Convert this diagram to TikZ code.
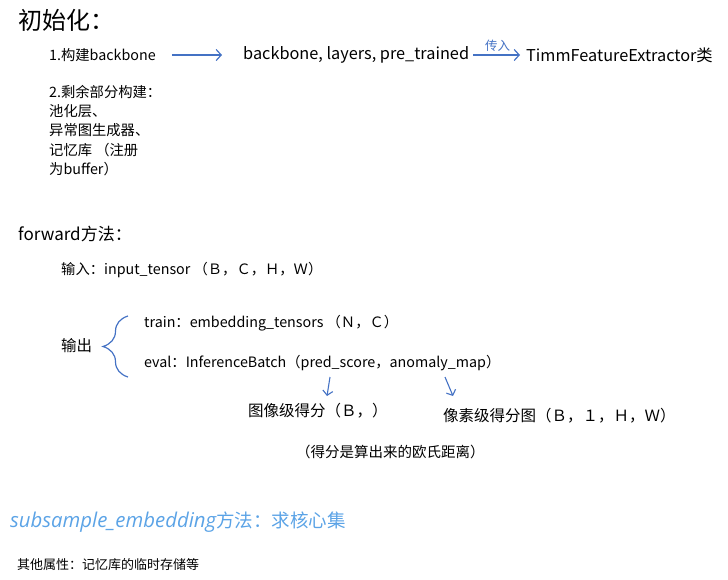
\documentclass[tikz,border=0pt]{standalone}
\usepackage{fontspec}
\setmainfont{Noto Sans CJK SC}
\newfontfamily\handlatin{Open Sans}[Scale=1.1]
\definecolor{arrowBlue}{HTML}{4472C4}
\definecolor{noteBlue}{HTML}{5BA3E6}
\usetikzlibrary{arrows.meta,decorations.pathreplacing}
\tikzset{
  txt/.style={anchor=west, inner sep=0pt, font=\fontsize{14.3}{17}\selectfont},
  bigtxt/.style={txt, font=\fontsize{16.3}{19}\selectfont},
  scoretxt/.style={txt, font=\fontsize{15.5}{18}\selectfont},
  bluearrow/.style={arrowBlue, line width=1.2pt, -{Straight Barb[length=5pt,width=11pt]}},
  smallarrow/.style={arrowBlue, line width=1.1pt, -{Straight Barb[length=4.5pt,width=10pt]}},
}

\begin{document}
\begin{tikzpicture}[x=1pt,y=-1pt]
  \useasboundingbox (0,0) rectangle (728,579);
  % 初始化
  \node[txt, font=\fontsize{24}{28}\selectfont] (init) at (18,20) {初始化：};
  \node[txt] (bbStep) at (49,55) {1.构建backbone};
  \node[bigtxt] (args) at (243,55) {backbone, layers, pre\_trained};
  \node[bigtxt] (timm) at (526,55) {TimmFeatureExtractor类};
  \draw[bluearrow, shorten <=16pt, shorten >=21pt] (bbStep.east) -- (args.west);
  \draw[bluearrow, shorten <=4pt, shorten >=6pt] (args.east) -- node[above=3pt, font=\fontsize{12.5}{15}\selectfont, inner sep=0pt] {传入} (timm.west);
  \node[txt, anchor=north west, align=left, font=\fontsize{14.3}{19.3}\selectfont] (rest) at (49,85)
    {2.剩余部分构建：\\池化层、\\异常图生成器、\\记忆库 （注册\\为buffer）};

  % forward
  \node[txt, font=\fontsize{17}{20}\selectfont] (fwd) at (18,234) {forward方法：};
  \node[txt] (inp) at (61,270) {输入：input\_tensor （Ｂ，Ｃ，Ｈ，Ｗ）};
  \node[scoretxt] (outp) at (61,346) {输出};
  \node[txt] (trainOut) at (144,323) {train：embedding\_tensors （Ｎ，Ｃ）};
  \node[txt] (evalOut) at (144,363) {eval：InferenceBatch（pred\_score，anomaly\_map）};
  \coordinate (braceLow) at (128,377);
  \coordinate (braceHigh) at (128,316);
  \draw[arrowBlue, line width=1.2pt, decorate, decoration={brace, amplitude=25pt}] (braceLow) -- (braceHigh);
  \coordinate (psTail) at (330,377);
  \coordinate (psHead) at (327,396);
  \coordinate (amTail) at (445,377);
  \coordinate (amHead) at (453,396);
  \draw[smallarrow] (psTail) -- (psHead);
  \draw[smallarrow] (amTail) -- (amHead);
  \node[scoretxt] (imgScore) at (248,411) {图像级得分（Ｂ，）};
  \node[scoretxt] (pixScore) at (443,416) {像素级得分图（Ｂ，１，Ｈ，Ｗ）};
  \node[txt, font=\fontsize{14.5}{17}\selectfont] (dist) at (296,452) {（得分是算出来的欧氏距离）};

  % subsample
  \node[txt, text=noteBlue, font=\fontsize{18.5}{22}\selectfont] (sub) at (10,522) {{\handlatin\itshape subsample\_embedding}方法：求核心集};
  \node[txt, font=\fontsize{13}{15}\selectfont] (other) at (17,565) {其他属性：记忆库的临时存储等};
\end{tikzpicture}
\end{document}
